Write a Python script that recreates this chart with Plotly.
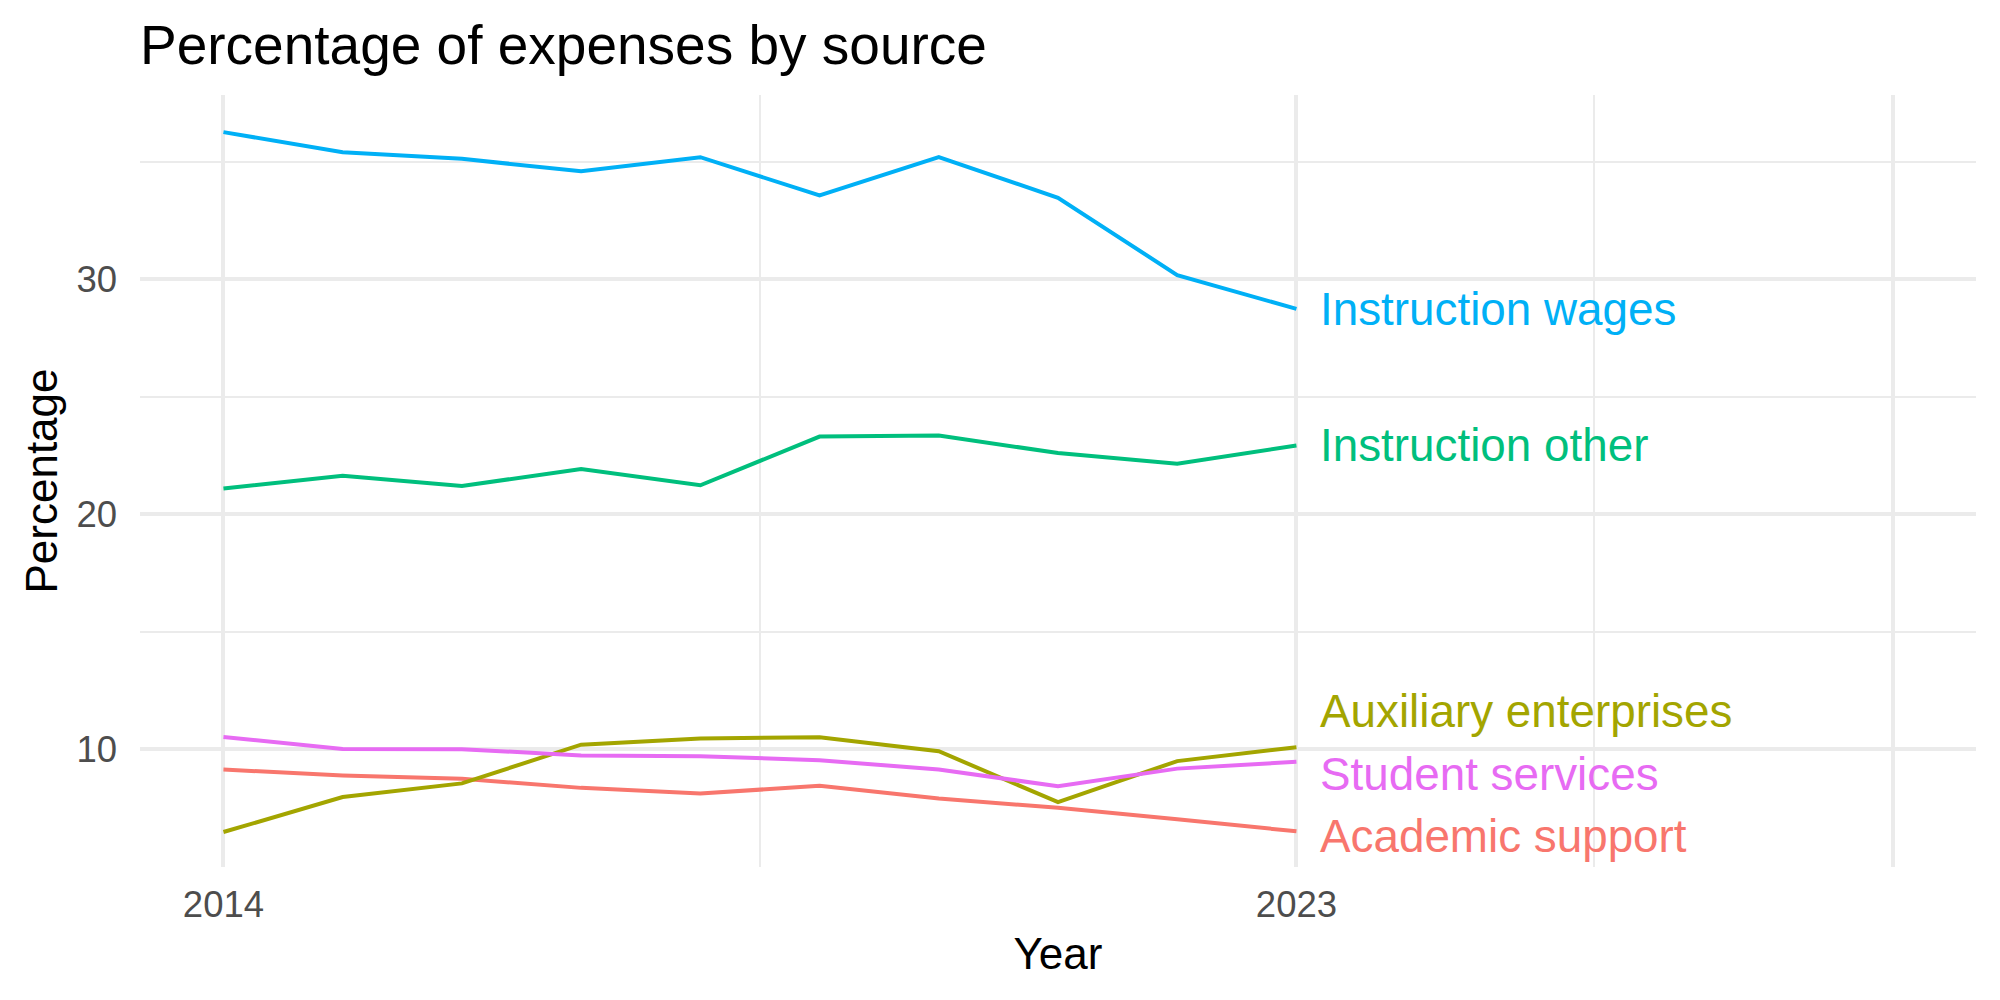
import plotly.graph_objects as go

years = [2014, 2015, 2016, 2017, 2018, 2019, 2020, 2021, 2022, 2023]

academic_support = [9.12, 8.87, 8.73, 8.34, 8.10, 8.43, 7.89, 7.49, 7.00, 6.49]
auxiliary_enterprises = [6.46, 7.95, 8.53, 10.18, 10.44, 10.50, 9.90, 7.73, 9.48, 10.07]
instruction_other = [21.09, 21.63, 21.20, 21.92, 21.23, 23.30, 23.35, 22.60, 22.15, 22.92]
instruction_wages = [36.27, 35.41, 35.13, 34.60, 35.20, 33.57, 35.21, 33.47, 30.18, 28.74]
student_services = [10.51, 10.00, 9.99, 9.72, 9.69, 9.52, 9.12, 8.41, 9.16, 9.45]

series_names = ["Academic support", "Auxiliary enterprises", "Instruction other",
                "Instruction wages", "Student services"]
series_values = [academic_support, auxiliary_enterprises, instruction_other,
                 instruction_wages, student_services]
series_colors = ["#F8766D", "#A3A500", "#00BF7D", "#00B0F6", "#E76BF3"]
# label vertical positions (repelled)
label_y = [6.28, 11.58, 22.92, 28.70, 8.91]

x_ticks = [2014, 2023, 2028]
x_ticktext = ["2014", "2023", ""]
x_minor = [2018.5, 2025.5]
y_ticks = [10, 20, 30]
y_minor = [5, 15, 25, 35]

FONT = "Liberation Sans, Arial, Helvetica, sans-serif"

fig = go.Figure()
for name, vals, col in zip(series_names, series_values, series_colors):
    fig.add_trace(go.Scatter(x=years, y=vals, mode="lines", name=name,
                             line=dict(color=col, width=4), showlegend=False))

for name, ly, col in zip(series_names, label_y, series_colors):
    fig.add_annotation(x=years[-1], y=ly, text=name, showarrow=False,
                       xanchor="left", yanchor="middle", xshift=22,
                       font=dict(family=FONT, size=45.8, color=col))

fig.update_layout(
    width=2000, height=1000,
    margin=dict(l=140, r=24, t=95, b=133),
    paper_bgcolor="white", plot_bgcolor="white",
    font=dict(family=FONT),
    title=dict(text="Percentage of expenses by source",
               font=dict(family=FONT, size=55, color="black"),
               x=140/2000, xanchor="left", xref="container",
               y=1 - 45/1000, yanchor="middle", yref="container"),
    xaxis=dict(range=[2013.3, 2028.7], tickmode="array", tickvals=x_ticks,
               ticktext=x_ticktext, showgrid=True, gridcolor="#EBEBEB", gridwidth=3.5,
               zeroline=False, showline=False, ticks="",
               tickfont=dict(family=FONT, size=36.5, color="#4D4D4D"),
               ticklabelstandoff=12,
               minor=dict(tickmode="array", tickvals=x_minor, showgrid=True,
                          gridcolor="#EBEBEB", gridwidth=2),
               title=dict(text="Year", font=dict(family=FONT, size=44, color="black"),
                          standoff=14)),
    yaxis=dict(range=[4.97, 37.85], tickmode="array", tickvals=y_ticks,
               showgrid=True, gridcolor="#EBEBEB", gridwidth=3.5,
               zeroline=False, showline=False, ticks="",
               tickfont=dict(family=FONT, size=36.5, color="#4D4D4D"),
               ticklabelstandoff=22,
               minor=dict(tickmode="array", tickvals=y_minor, showgrid=True,
                          gridcolor="#EBEBEB", gridwidth=2),
               title=dict(text="Percentage", font=dict(family=FONT, size=44, color="black"),
                          standoff=4)),
)

fig.write_html("out.html")
